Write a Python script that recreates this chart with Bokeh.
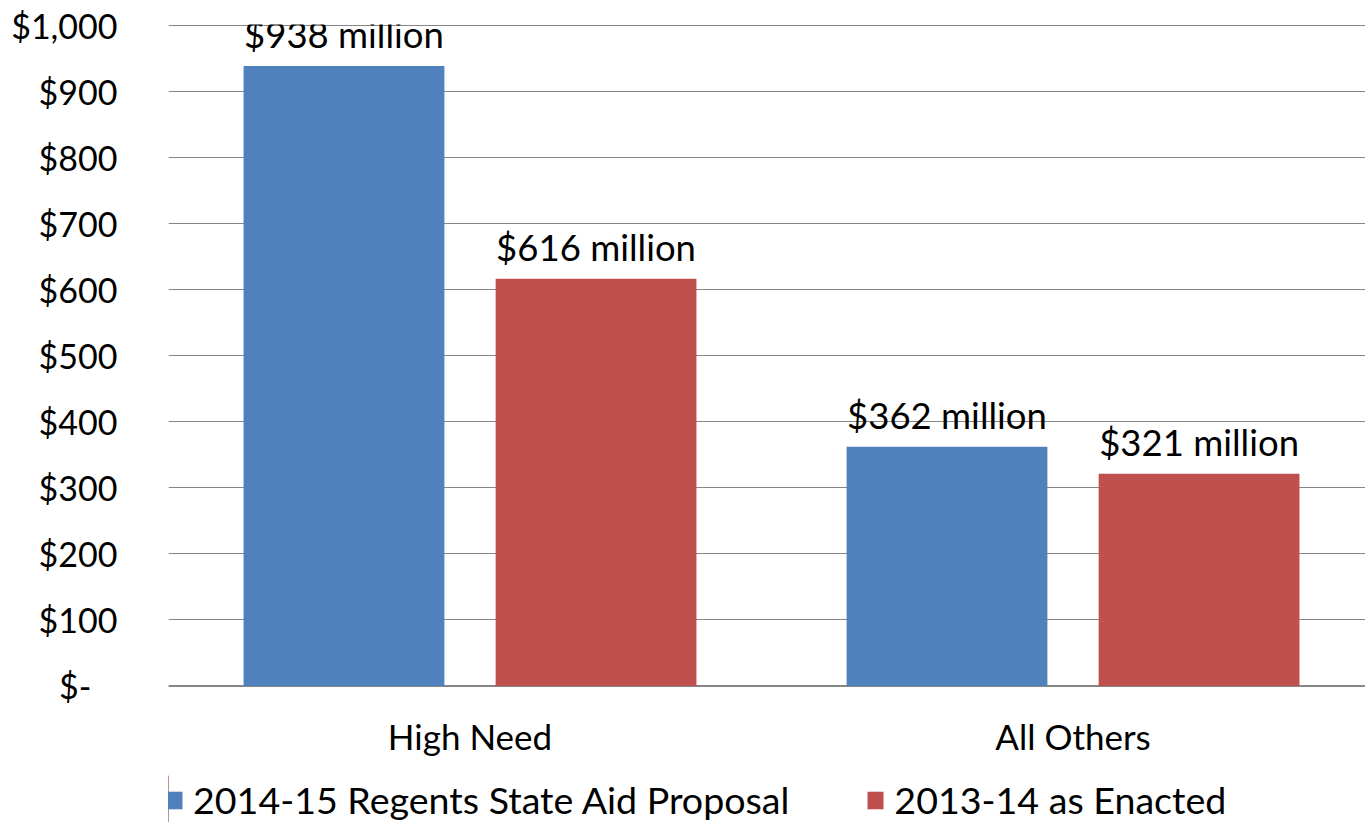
from bokeh.plotting import figure
from bokeh.layouts import column
from bokeh.models import Range1d, FixedTicker, Legend, LegendItem, ColumnDataSource
from bokeh.transform import dodge
from bokeh.core.properties import value
from bokeh.embed import file_html
from bokeh.resources import INLINE

categories = ["High Need", "All Others"]
series_names = ["2014-15 Regents State Aid Proposal", "2013-14 as Enacted"]
proposal_2014_15 = [938, 362]
enacted_2013_14 = [616, 321]
y_ticks = [0, 100, 200, 300, 400, 500, 600, 700, 800, 900, 1000]
y_tick_labels = ["$-\u00a0\u00a0\u00a0", "$100", "$200", "$300", "$400", "$500",
                 "$600", "$700", "$800", "$900", "$1,000"]

FONT = "Lato"
BLUE = "#4F81BD"
RED = "#C0504D"

x_pos = [i + 0.5 for i in range(len(categories))]
src = ColumnDataSource(dict(
    x=x_pos,
    a=proposal_2014_15,
    b=enacted_2013_14,
    la=[f"${v:,} million" for v in proposal_2014_15],
    lb=[f"${v:,} million" for v in enacted_2013_14],
))

p = figure(width=1365, height=775, output_backend="svg", toolbar_location=None,
           x_range=Range1d(0, 1.985), y_range=Range1d(-0.8, 1000.8),
           min_border_left=168, min_border_top=24, min_border_right=0, min_border_bottom=89)
p.outline_line_color = None
p.background_fill_color = "white"
p.border_fill_color = "white"

off = 0.209
w = 0.333
rb = p.vbar(x=dodge("x", -off, range=p.x_range), top="a", width=w, source=src,
            fill_color=BLUE, line_color=None)
rr = p.vbar(x=dodge("x", off, range=p.x_range), top="b", width=w, source=src,
            fill_color=RED, line_color=None)

for col, lab, dx in (("a", "la", -off), ("b", "lb", off)):
    p.text(x=dodge("x", dx, range=p.x_range), y=col, text=lab, source=src,
           text_font=value(FONT), text_font_size="36.5px", text_color="black",
           text_align="center", text_baseline="alphabetic", y_offset=-32)

# axes
p.yaxis.ticker = FixedTicker(ticks=y_ticks)
p.yaxis.major_label_overrides = {t: l for t, l in zip(y_ticks, y_tick_labels)}
p.yaxis.axis_line_color = None
p.yaxis.major_tick_line_color = None
p.yaxis.minor_tick_line_color = None
p.yaxis.major_label_standoff = 45
p.yaxis.major_label_text_font = FONT
p.yaxis.major_label_text_font_size = "34px"
p.yaxis.major_label_text_color = "black"

p.xaxis.ticker = FixedTicker(ticks=x_pos)
p.xaxis.major_label_overrides = {x: c for x, c in zip(x_pos, categories)}
p.xaxis.axis_line_color = "#868686"
p.xaxis.major_tick_line_color = None
p.xaxis.minor_tick_line_color = None
p.xaxis.major_label_standoff = 22
p.xaxis.major_label_text_font = FONT
p.xaxis.major_label_text_font_size = "35px"
p.xaxis.major_label_text_color = "black"

p.xgrid.grid_line_color = None
p.ygrid.grid_line_color = "#868686"
p.ygrid.grid_line_width = 1
p.ygrid.ticker = FixedTicker(ticks=y_ticks)

# legend strip below the chart (its zero-width bars lie outside its range; only the legend shows)
lg = figure(width=1365, height=47, output_backend="svg", toolbar_location=None,
            x_range=Range1d(10, 11), y_range=Range1d(0, 1),
            x_axis_location=None, y_axis_location=None,
            min_border_left=0, min_border_right=0, min_border_top=0, min_border_bottom=0)
lg.outline_line_color = None
lg.grid.visible = False
lb_ = lg.vbar(x="x", top="a", width=0, source=src, fill_color=BLUE, line_color=None)
lr_ = lg.vbar(x="x", top="b", width=0, source=src, fill_color=RED, line_color=None)
legend = Legend(items=[LegendItem(label=series_names[0], renderers=[lb_]),
                       LegendItem(label=series_names[1], renderers=[lr_])],
                orientation="horizontal", location=(-4, 0),
                glyph_width=20, glyph_height=22, label_standoff=9, spacing=76,
                label_text_font=FONT, label_text_font_size="37.6px", label_text_color="black",
                border_line_color=None, background_fill_alpha=0,
                padding=0, margin=0)
lg.add_layout(legend, "center")

open("out.html", "w").write(file_html(column(p, lg, spacing=0), INLINE))
